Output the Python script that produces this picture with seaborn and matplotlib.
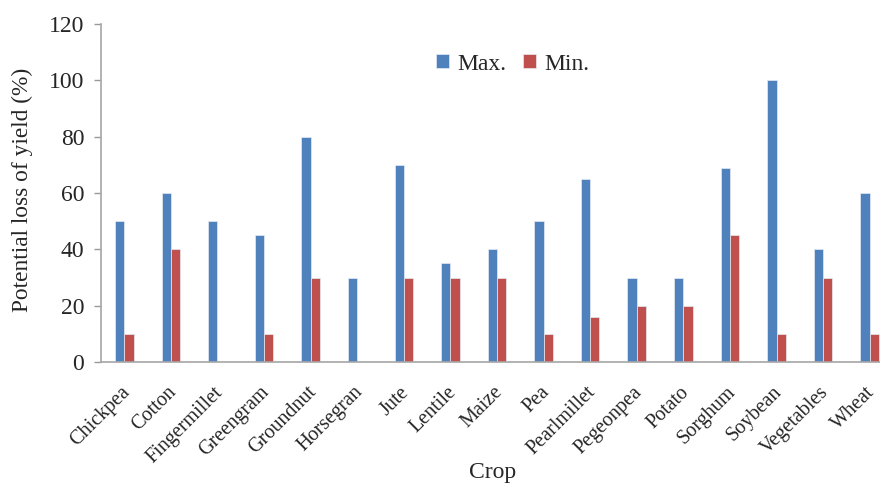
import matplotlib
matplotlib.use("Agg")
import matplotlib.pyplot as plt
import matplotlib.transforms as mtransforms
import seaborn as sns
import pandas as pd

crops = ["Chickpea", "Cotton", "Fingermillet", "Greengram", "Groundnut", "Horsegran",
         "Jute", "Lentile", "Maize", "Pea", "Pearlmillet", "Pegeonpea", "Potato",
         "Sorghum", "Soybean", "Vegetables", "Wheat"]
max_loss = [50, 60, 50, 45, 80, 30, 70, 35, 40, 50, 65, 30, 30, 69, 100, 40, 60]
min_loss = [10, 40, 0, 10, 30, 0, 30, 30, 30, 10, 16, 20, 20, 45, 10, 30, 10]
series = ["Max.", "Min."]
y_ticks = [0, 20, 40, 60, 80, 100, 120]

df = pd.DataFrame({
    "Crop": crops * 2,
    "Loss": max_loss + min_loss,
    "Series": [series[0]] * len(crops) + [series[1]] * len(crops),
})

sns.set_theme(style="white")
plt.rcParams["font.family"] = ["Liberation Serif", "DejaVu Serif"]

fig = plt.figure(figsize=(8.8, 4.86), dpi=100)
ax = fig.add_axes([101 / 880, 1 - 362 / 486, 792 / 880, 338 / 486])

sns.barplot(data=df, x="Crop", y="Loss", hue="Series", order=crops, hue_order=series,
            palette=["#4F81BD", "#C0504D"], saturation=1, width=0.4, gap=0, ax=ax,
            edgecolor="#e4ebf4", linewidth=0.5, errorbar=None)

ax.set_ylim(0, 120)
ax.set_xlim(-0.5, 16.5)
ax.set_yticks(y_ticks)
ax.set_yticklabels([str(t) for t in y_ticks], fontsize=17)
ax.tick_params(axis="y", which="both", left=True, length=5, width=1, color="#999999", pad=7)
ax.tick_params(axis="x", bottom=False, pad=9)
ax.set_xticks(range(len(crops)))
ax.set_xticklabels(crops, rotation=45, ha="right", rotation_mode="anchor", fontsize=14.5)

# nudge the slanted crop names slightly to the left
shift = mtransforms.ScaledTranslation(-4 / 100, 0, fig.dpi_scale_trans)
for lbl in ax.get_xticklabels():
    lbl.set_transform(lbl.get_transform() + shift)

for side in ["top", "right"]:
    ax.spines[side].set_visible(False)
for side in ["left", "bottom"]:
    ax.spines[side].set_color("#a6a6a6")
    ax.spines[side].set_linewidth(1.2)

ax.set_xlabel("Crop", fontsize=17)
ax.xaxis.set_label_coords(0.494, -0.295)
ax.set_ylabel("Potential loss of yield (%)", fontsize=16.8)
ax.yaxis.set_label_coords(-0.086, 0.509)

leg = ax.legend(loc="upper center", bbox_to_anchor=(0.52, 0.975), ncol=2, frameon=False,
                fontsize=17, handlelength=0.55, handleheight=0.55, handletextpad=0.35,
                columnspacing=0.7)

fig.savefig("out.png", dpi=100)
